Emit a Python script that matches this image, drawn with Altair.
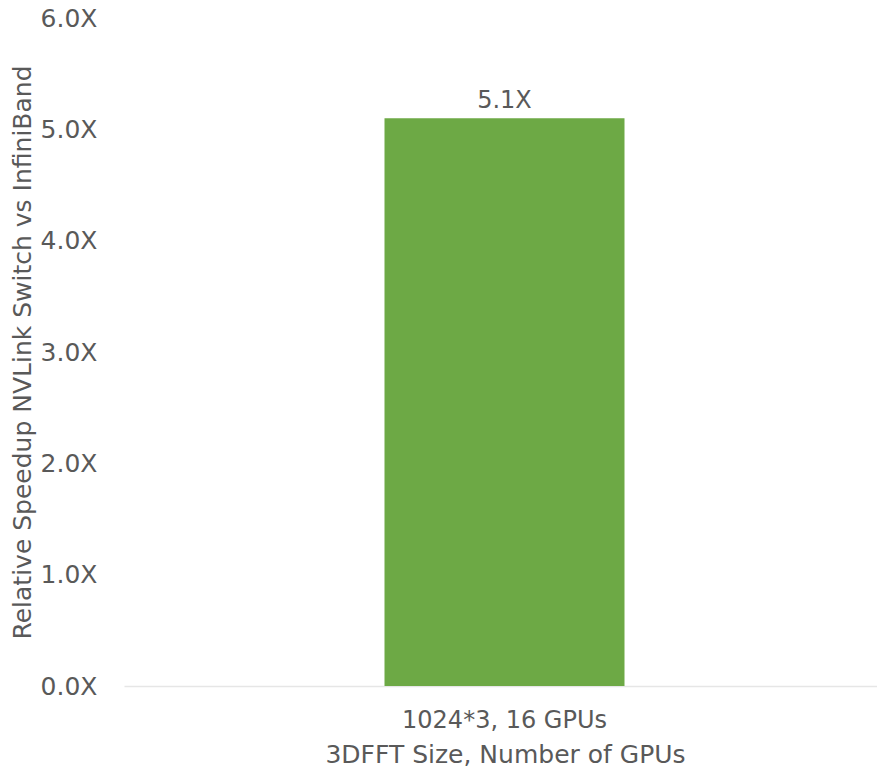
import altair as alt
import pandas as pd

categories = ["1024*3, 16 GPUs"]
speedups = [5.1]

df = pd.DataFrame({"category": categories, "speedup": speedups})

FONT = "DejaVu Sans"
GRAY = "#595959"
FS = 25

base = alt.Chart(df)

bars = base.mark_bar(color="#6DA945", size=240, xOffset=4).encode(
    x=alt.X("category:N",
            title="3DFFT Size, Number of GPUs",
            axis=alt.Axis(labelAngle=0, labelFontSize=FS - 1, titleFontSize=FS,
                          labelColor=GRAY, titleColor=GRAY, labelFont=FONT,
                          titleFont=FONT, titleFontWeight="normal", grid=False,
                          labelLimit=0, labelOffset=4, titleX=381,
                          domainColor="#e6e6e6", domainWidth=1.5, ticks=False,
                          labelPadding=22, titlePadding=10)),
    y=alt.Y("speedup:Q",
            title="Relative Speedup NVLink Switch vs InfiniBand",
            scale=alt.Scale(domain=[0, 6], nice=False),
            axis=alt.Axis(values=[0, 1, 2, 3, 4, 5, 6], grid=False, domain=False,
                          ticks=False, labelExpr="format(datum.value, '.1f') + 'X'",
                          labelFontSize=FS, titleFontSize=FS, labelColor=GRAY,
                          titleColor=GRAY, labelFont=FONT, titleFont=FONT,
                          titleFontWeight="normal", labelPadding=27, titlePadding=5)),
)

text = base.transform_calculate(
    lbl="format(datum.speedup, '.1f') + 'X'"
).mark_text(dy=-17, dx=4, fontSize=FS - 1, font=FONT, color=GRAY).encode(
    x="category:N",
    y="speedup:Q",
    text="lbl:N",
)

chart = (bars + text).properties(
    width=753, height=668,
    autosize=alt.AutoSizeParams(type="none"),
    padding={"left": 124, "top": 18, "right": 0, "bottom": 85},
    background="white",
).configure_view(stroke="transparent", strokeWidth=0)

chart.save("out.html", embed_options={"renderer": "svg", "actions": False})
